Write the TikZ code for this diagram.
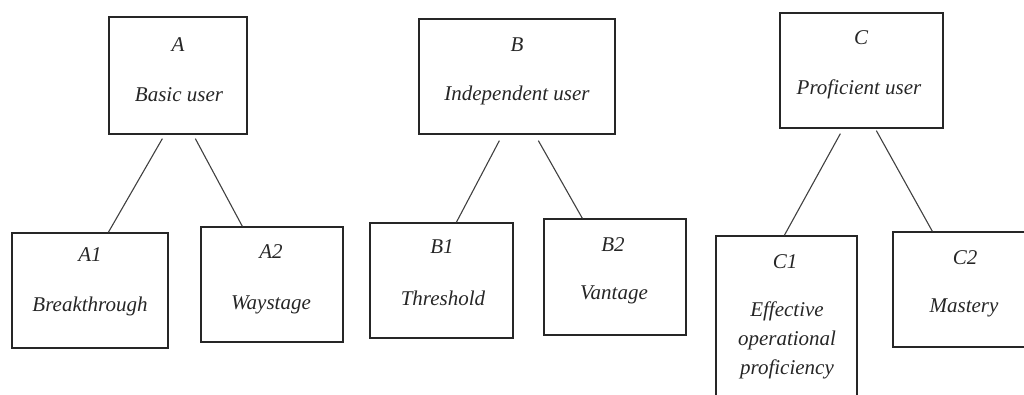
\documentclass[tikz,border=0pt]{standalone}
\usepackage{fontspec}
\setmainfont{Liberation Serif}
\begin{document}
\begin{tikzpicture}[x=1pt,y=-1pt,
  box/.style={draw=black!85, line width=1.3pt, rectangle, inner sep=0pt},
  lbl/.style={font=\fontsize{21}{29}\selectfont\itshape, inner sep=0pt, align=center, text=black!85},
  link/.style={draw=black!75, line width=1.1pt}]
\useasboundingbox (0,0) rectangle (1024,394);
\clip (0,0) rectangle (1024,394);

% top level boxes
\node[box, minimum width=138pt, minimum height=117pt] (A) at (178,75.5) {};
\node[box, minimum width=196pt, minimum height=115pt] (B) at (517,76.5) {};
\node[box, minimum width=163pt, minimum height=115pt] (C) at (861.5,70.5) {};

% second level boxes
\node[box, minimum width=156pt, minimum height=115pt] (A1) at (90,290.5) {};
\node[box, minimum width=142pt, minimum height=115pt] (A2) at (272,284.5) {};
\node[box, minimum width=143pt, minimum height=115pt] (B1) at (441.5,280.5) {};
\node[box, minimum width=142pt, minimum height=116pt] (B2) at (615,277) {};
\node[box, minimum width=141pt, minimum height=170pt] (C1) at (786.5,321) {};
\node[box, minimum width=144pt, minimum height=115pt] (C2) at (965,289.5) {};

% labels
\node[lbl] (Ak) at (178,45) {A};
\node[lbl] (An) at (179,95) {Basic user};
\node[lbl] (Bk) at (517,45) {B};
\node[lbl] (Bn) at (517,95) {Independent user};
\node[lbl] (Ck) at (861,38) {C};
\node[lbl] (Cn) at (859,89) {Proficient user};

\node[lbl] (A1k) at (90,255) {A1};
\node[lbl] (A1n) at (90,306) {Breakthrough};
\node[lbl] (A2k) at (271,252) {A2};
\node[lbl] (A2n) at (271,305) {Waystage};
\node[lbl] (B1k) at (442,247) {B1};
\node[lbl] (B1n) at (443,298) {Threshold};
\node[lbl] (B2k) at (613,245) {B2};
\node[lbl] (B2n) at (614,295) {Vantage};
\node[lbl] (C1k) at (785,262) {C1};
\node[lbl] (C1n) at (787,340) {Effective\\operational\\proficiency};
\node[lbl] (C2k) at (965,258) {C2};
\node[lbl] (C2n) at (964,308) {Mastery};

% connectors
\draw[link] ([shift={(54,4)}]A.south west) -- ([xshift=97pt]A1.north west);
\draw[link] ([shift={(87,4)}]A.south west) -- ([xshift=42pt]A2.north west);
\draw[link] ([shift={(81,6)}]B.south west) -- ([xshift=87pt]B1.north west);
\draw[link] ([shift={(120,6)}]B.south west) -- ([xshift=39pt]B2.north west);
\draw[link] ([shift={(61,5)}]C.south west) -- ([xshift=69pt]C1.north west);
\draw[link] ([shift={(97,2)}]C.south west) -- ([xshift=40pt]C2.north west);
\end{tikzpicture}
\end{document}
